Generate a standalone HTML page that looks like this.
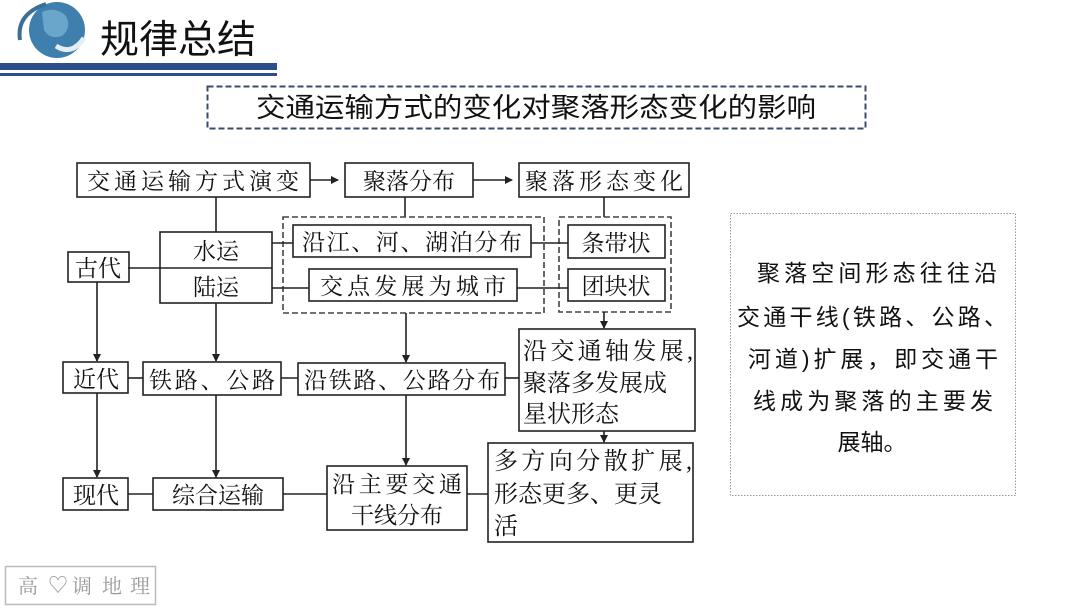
<!DOCTYPE html>
<html><head><meta charset="utf-8"><style>
html,body{margin:0;padding:0;background:#fff;}
body{width:1080px;height:608px;overflow:hidden;position:relative;}
svg{position:absolute;left:0;top:0;}
.d{font-family:"Liberation Serif","Noto Serif CJK SC",serif;fill:#111;}
.s{font-family:"Liberation Sans","Noto Sans CJK SC",sans-serif;fill:#111;}
</style></head><body>
<svg width="1080" height="608" viewBox="0 0 1080 608">
<defs><marker id="a" markerWidth="8" markerHeight="8" refX="7" refY="4" orient="auto" markerUnits="userSpaceOnUse"><path d="M0,0 L8,4 L0,8 z" fill="#222"/></marker></defs>
<!-- header -->
<circle cx="57" cy="30" r="28" fill="#3f7fae"/>
<path d="M42,12 q14,-6 24,4 q6,12 -4,20 q-12,4 -18,-6 z" fill="#6aa5cc"/>
<path d="M56,46 q16,10 28,-8" stroke="#e6eef5" stroke-width="5" fill="none"/>
<path d="M20,40 q-4,-26 26,-36" stroke="#3a6f96" stroke-width="4" fill="none"/>
<text x="100" y="53" class="s" font-size="39">规律总结</text>
<rect x="0" y="63" width="277" height="7" fill="#2c4f8c"/>
<rect x="0" y="73" width="277" height="3" fill="#2c4f8c"/>
<!-- title -->
<rect x="207.5" y="86.5" width="658" height="42" fill="none" stroke="#3c4a6b" stroke-width="2" stroke-dasharray="6,3"/>
<text x="536" y="117" class="s" font-size="27" text-anchor="middle" textLength="560" lengthAdjust="spacingAndGlyphs">交通运输方式的变化对聚落形态变化的影响</text>
<g stroke="#222" stroke-width="1.6" fill="none">
<rect x="77" y="163" width="233" height="34"/>
<rect x="345" y="163" width="128" height="34"/>
<rect x="519" y="163" width="170" height="34"/>
<line x1="310" y1="180" x2="338" y2="180" marker-end="url(#a)"/>
<line x1="473" y1="180" x2="512" y2="180" marker-end="url(#a)"/>
<line x1="216" y1="197" x2="216" y2="232"/>
<line x1="405" y1="197" x2="405" y2="217"/>
<line x1="604" y1="197" x2="604" y2="217"/>
<rect x="160" y="232" width="112" height="71"/>
<line x1="128" y1="268" x2="272" y2="268"/>
<rect x="68" y="252" width="61" height="30"/>
<rect x="283" y="217" width="261" height="96" stroke-dasharray="6,3" stroke="#444"/>
<rect x="559" y="217" width="112" height="95" stroke-dasharray="6,3" stroke="#444"/>
<rect x="293" y="225" width="238" height="32"/>
<rect x="309" y="269" width="208" height="32"/>
<rect x="568" y="225" width="97" height="33"/>
<rect x="568" y="269" width="97" height="32"/>
<line x1="272" y1="243" x2="293" y2="243"/>
<line x1="272" y1="288" x2="309" y2="288"/>
<line x1="531" y1="243" x2="568" y2="243"/>
<line x1="517" y1="288" x2="568" y2="288"/>
<rect x="63" y="362" width="65" height="31"/>
<rect x="143" y="362" width="138" height="33"/>
<rect x="298" y="363" width="207" height="32"/>
<rect x="519" y="329" width="176" height="102"/>
<line x1="128" y1="378" x2="143" y2="378"/>
<line x1="281" y1="378" x2="298" y2="378"/>
<line x1="505" y1="378" x2="519" y2="378"/>
<line x1="97" y1="282" x2="97" y2="361" marker-end="url(#a)"/>
<line x1="216" y1="303" x2="216" y2="361" marker-end="url(#a)"/>
<line x1="406" y1="313" x2="406" y2="362" marker-end="url(#a)"/>
<line x1="604" y1="312" x2="604" y2="328" marker-end="url(#a)"/>
<rect x="63" y="478" width="65" height="32"/>
<rect x="153" y="478" width="130" height="32"/>
<rect x="327" y="466" width="140" height="64"/>
<rect x="488" y="443" width="205" height="99"/>
<line x1="128" y1="494" x2="153" y2="494"/>
<line x1="283" y1="494" x2="327" y2="494"/>
<line x1="467" y1="494" x2="488" y2="494"/>
<line x1="97" y1="393" x2="97" y2="477" marker-end="url(#a)"/>
<line x1="216" y1="395" x2="216" y2="477" marker-end="url(#a)"/>
<line x1="406" y1="395" x2="406" y2="465" marker-end="url(#a)"/>
<line x1="604" y1="431" x2="604" y2="442" marker-end="url(#a)"/>
</g>
<g class="d" font-size="23" text-anchor="middle">
<text x="193" y="189" textLength="212">交通运输方式演变</text>
<text x="409" y="189">聚落分布</text>
<text x="604" y="189" textLength="158">聚落形态变化</text>
<text x="216" y="259">水运</text>
<text x="216" y="295">陆运</text>
<text x="98" y="276">古代</text>
<text x="412" y="250" textLength="220">沿江、河、湖泊分布</text>
<text x="413" y="294" textLength="186">交点发展为城市</text>
<text x="616" y="251">条带状</text>
<text x="616" y="294">团块状</text>
<text x="96" y="387">近代</text>
<text x="212" y="388" textLength="126">铁路、公路</text>
<text x="402" y="388" textLength="196">沿铁路、公路分布</text>
<text x="96" y="503">现代</text>
<text x="218" y="503">综合运输</text>
<text x="397" y="492" textLength="130">沿主要交通</text>
<text x="397" y="523">干线分布</text>
</g>
<g class="d" font-size="24">
<text x="523" y="359" textLength="170">沿交通轴发展,</text>
<text x="523" y="391">聚落多发展成</text>
<text x="523" y="422">星状形态</text>
<text x="494" y="469" textLength="198">多方向分散扩展,</text>
<text x="494" y="502">形态更多、更灵</text>
<text x="494" y="534">活</text>
</g>
<!-- right box -->
<rect x="730.5" y="213.5" width="285" height="282" fill="none" stroke="#999" stroke-width="1" stroke-dasharray="1.5,1.5"/>
<g class="s" font-size="23" text-anchor="middle">
<text x="877" y="281" textLength="240">聚落空间形态往往沿</text>
<text x="872" y="325" textLength="270">交通干线(铁路、公路、</text>
<text x="873" y="367" textLength="250">河道)扩展，即交通干</text>
<text x="873" y="409" textLength="240">线成为聚落的主要发</text>
<text x="872" y="450">展轴。</text>
</g>
<!-- bottom logo -->
<rect x="5.5" y="566.5" width="150" height="38" fill="none" stroke="#bbb" stroke-width="1.5"/>
<g class="d" font-size="20" style="fill:#9a9a9a">
<text x="18" y="593">高</text><text x="48" y="592">♡</text><text x="72" y="593">调</text><text x="102" y="593">地</text><text x="130" y="593">理</text>
</g>
</svg>
</body></html>
